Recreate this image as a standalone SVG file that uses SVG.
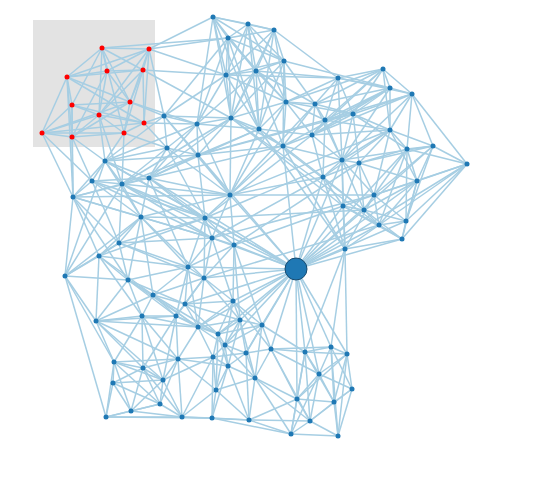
<svg xmlns="http://www.w3.org/2000/svg" width="557" height="484" viewBox="0 0 557 484">
<style>
.e path{stroke:#a6cee3;stroke-width:1.5;fill:none}
.n circle{fill:#1f78b4}
.r circle{fill:#ff0000}
</style>
<rect x="0" y="0" width="557" height="484" fill="#ffffff"/>
<rect id="highlight" x="33" y="20" width="122" height="127" fill="#e3e3e3"/>
<g id="connectors" class="e">
<path d="M102 48L149 49"/><path d="M102 48L107 71"/><path d="M102 48L143 70"/><path d="M102 48L67 77"/><path d="M102 48L130 102"/><path d="M102 48L72 105"/><path d="M102 48L99 115"/><path d="M102 48L124 133"/>
<path d="M149 49L107 71"/><path d="M149 49L143 70"/><path d="M149 49L67 77"/><path d="M149 49L130 102"/><path d="M149 49L99 115"/><path d="M149 49L144 123"/>
<path d="M107 71L143 70"/><path d="M107 71L67 77"/><path d="M107 71L130 102"/><path d="M107 71L99 115"/><path d="M107 71L72 137"/>
<path d="M143 70L67 77"/><path d="M143 70L144 123"/><path d="M143 70L130 102"/><path d="M143 70L124 133"/><path d="M143 70L99 115"/>
<path d="M67 77L72 105"/><path d="M67 77L42 133"/><path d="M67 77L72 137"/><path d="M67 77L130 102"/><path d="M67 77L144 123"/>
<path d="M72 105L99 115"/><path d="M72 105L144 123"/><path d="M72 105L42 133"/><path d="M72 105L72 137"/><path d="M72 105L130 102"/>
<path d="M99 115L42 133"/><path d="M99 115L72 137"/><path d="M99 115L124 133"/><path d="M99 115L144 123"/>
<path d="M130 102L124 133"/><path d="M130 102L42 133"/><path d="M144 123L42 133"/><path d="M144 123L124 133"/><path d="M42 133L72 137"/><path d="M42 133L124 133"/><path d="M72 137L124 133"/><path d="M72 137L130 102"/>
<path d="M149 49L213 17"/><path d="M102 48L228 38"/><path d="M149 49L228 38"/><path d="M143 70L226 75"/><path d="M143 70L231 118"/><path d="M130 102L197 124"/><path d="M124 133L167 148"/><path d="M144 123L167 148"/><path d="M124 133L122 184"/><path d="M72 137L92 181"/><path d="M99 115L122 184"/><path d="M130 102L164 116"/><path d="M149 49L164 116"/><path d="M144 123L164 116"/><path d="M144 123L197 124"/><path d="M67 77L73 197"/><path d="M42 133L73 197"/><path d="M72 137L73 197"/><path d="M72 105L73 197"/><path d="M42 133L92 181"/><path d="M72 137L105 161"/><path d="M124 133L105 161"/><path d="M99 115L105 161"/><path d="M149 49L226 75"/>
<path d="M213 17L248 24"/><path d="M213 17L274 30"/><path d="M213 17L228 38"/><path d="M213 17L226 75"/><path d="M213 17L256 71"/><path d="M213 17L231 118"/><path d="M213 17L259 129"/><path d="M213 17L284 61"/><path d="M213 17L197 124"/>
<path d="M248 24L274 30"/><path d="M248 24L228 38"/><path d="M248 24L226 75"/><path d="M248 24L256 71"/><path d="M248 24L231 118"/><path d="M248 24L286 102"/><path d="M248 24L284 61"/><path d="M248 24L259 129"/>
<path d="M274 30L228 38"/><path d="M274 30L284 61"/><path d="M274 30L256 71"/><path d="M274 30L338 78"/><path d="M274 30L226 75"/><path d="M274 30L259 129"/><path d="M274 30L286 102"/><path d="M274 30L231 118"/>
<path d="M228 38L226 75"/><path d="M228 38L256 71"/><path d="M228 38L231 118"/><path d="M228 38L259 129"/><path d="M228 38L284 61"/><path d="M228 38L197 124"/><path d="M228 38L286 102"/><path d="M228 38L164 116"/>
<path d="M284 61L256 71"/><path d="M284 61L226 75"/><path d="M284 61L286 102"/><path d="M284 61L315 104"/><path d="M284 61L259 129"/><path d="M284 61L283 146"/><path d="M284 61L390 88"/><path d="M284 61L231 118"/>
<path d="M226 75L256 71"/><path d="M226 75L231 118"/><path d="M226 75L197 124"/><path d="M226 75L286 102"/><path d="M226 75L259 129"/><path d="M226 75L338 78"/><path d="M226 75L164 116"/>
<path d="M256 71L286 102"/><path d="M256 71L231 118"/><path d="M256 71L259 129"/><path d="M256 71L283 146"/><path d="M256 71L315 104"/><path d="M256 71L338 78"/><path d="M256 71L197 124"/>
<path d="M338 78L383 69"/><path d="M338 78L390 88"/><path d="M338 78L286 102"/><path d="M338 78L315 104"/><path d="M338 78L325 120"/><path d="M338 78L353 114"/><path d="M338 78L412 94"/><path d="M338 78L342 160"/>
<path d="M383 69L390 88"/><path d="M383 69L412 94"/><path d="M383 69L286 102"/><path d="M383 69L325 120"/><path d="M383 69L353 114"/><path d="M383 69L315 104"/><path d="M383 69L312 135"/><path d="M383 69L390 130"/>
<path d="M390 88L412 94"/><path d="M390 88L325 120"/><path d="M390 88L353 114"/><path d="M390 88L390 130"/><path d="M390 88L315 104"/><path d="M390 88L312 135"/><path d="M390 88L283 146"/><path d="M390 88L342 160"/>
<path d="M412 94L390 130"/><path d="M412 94L433 146"/><path d="M412 94L407 149"/><path d="M412 94L325 120"/><path d="M412 94L353 114"/><path d="M412 94L342 160"/><path d="M412 94L312 135"/><path d="M412 94L467 164"/>
<path d="M286 102L315 104"/><path d="M286 102L325 120"/><path d="M286 102L231 118"/><path d="M286 102L259 129"/><path d="M286 102L312 135"/><path d="M286 102L283 146"/><path d="M286 102L353 114"/><path d="M286 102L230 195"/>
<path d="M315 104L325 120"/><path d="M315 104L312 135"/><path d="M315 104L283 146"/><path d="M315 104L353 114"/><path d="M315 104L342 160"/><path d="M315 104L230 195"/>
<path d="M325 120L353 114"/><path d="M325 120L312 135"/><path d="M325 120L390 130"/><path d="M325 120L342 160"/><path d="M325 120L323 177"/><path d="M325 120L198 155"/>
<path d="M353 114L390 130"/><path d="M353 114L312 135"/><path d="M353 114L342 160"/><path d="M353 114L359 163"/><path d="M353 114L407 149"/><path d="M353 114L198 155"/>
<path d="M231 118L197 124"/><path d="M231 118L259 129"/><path d="M231 118L164 116"/><path d="M231 118L198 155"/><path d="M231 118L283 146"/><path d="M231 118L230 195"/><path d="M231 118L379 225"/><path d="M231 118L343 206"/><path d="M231 118L149 178"/><path d="M231 118L122 184"/>
<path d="M197 124L164 116"/><path d="M197 124L198 155"/><path d="M197 124L259 129"/><path d="M197 124L167 148"/><path d="M197 124L105 161"/><path d="M197 124L230 195"/><path d="M197 124L149 178"/>
<path d="M259 129L283 146"/><path d="M259 129L312 135"/><path d="M259 129L230 195"/><path d="M259 129L198 155"/><path d="M259 129L364 210"/><path d="M259 129L345 249"/><path d="M259 129L149 178"/>
<path d="M312 135L283 146"/><path d="M312 135L342 160"/><path d="M312 135L323 177"/><path d="M312 135L390 130"/><path d="M312 135L205 218"/>
<path d="M283 146L323 177"/><path d="M283 146L230 195"/><path d="M283 146L198 155"/><path d="M283 146L342 160"/><path d="M283 146L345 249"/><path d="M283 146L149 178"/>
<path d="M390 130L433 146"/><path d="M390 130L407 149"/><path d="M390 130L342 160"/><path d="M390 130L359 163"/><path d="M390 130L417 181"/><path d="M390 130L374 195"/><path d="M390 130L230 195"/><path d="M390 130L323 177"/>
<path d="M433 146L407 149"/><path d="M433 146L467 164"/><path d="M433 146L417 181"/><path d="M433 146L359 163"/><path d="M433 146L406 221"/><path d="M433 146L342 160"/><path d="M433 146L374 195"/>
<path d="M407 149L467 164"/><path d="M407 149L417 181"/><path d="M407 149L359 163"/><path d="M407 149L374 195"/><path d="M407 149L406 221"/><path d="M407 149L379 225"/>
<path d="M342 160L359 163"/><path d="M342 160L323 177"/><path d="M342 160L343 206"/><path d="M342 160L374 195"/><path d="M342 160L364 210"/><path d="M342 160L205 218"/><path d="M342 160L345 249"/>
<path d="M359 163L374 195"/><path d="M359 163L323 177"/><path d="M359 163L364 210"/><path d="M359 163L343 206"/><path d="M359 163L417 181"/><path d="M359 163L234 245"/>
<path d="M467 164L417 181"/><path d="M467 164L406 221"/><path d="M467 164L402 239"/><path d="M467 164L379 225"/><path d="M467 164L374 195"/>
<path d="M417 181L374 195"/><path d="M417 181L406 221"/><path d="M417 181L402 239"/><path d="M417 181L379 225"/><path d="M417 181L364 210"/>
<path d="M374 195L343 206"/><path d="M374 195L364 210"/><path d="M374 195L379 225"/><path d="M374 195L406 221"/><path d="M374 195L212 238"/><path d="M374 195L345 249"/>
<path d="M323 177L343 206"/><path d="M323 177L364 210"/><path d="M323 177L230 195"/><path d="M323 177L345 249"/><path d="M323 177L212 238"/>
<path d="M343 206L364 210"/><path d="M343 206L379 225"/><path d="M343 206L345 249"/><path d="M343 206L234 245"/><path d="M343 206L402 239"/>
<path d="M364 210L379 225"/><path d="M364 210L406 221"/><path d="M364 210L402 239"/><path d="M364 210L205 218"/>
<path d="M379 225L406 221"/><path d="M379 225L402 239"/><path d="M379 225L345 249"/><path d="M379 225L204 278"/><path d="M406 221L402 239"/><path d="M402 239L345 249"/>
<path d="M230 195L374 195"/><path d="M73 197L230 195"/>
<path d="M164 116L167 148"/><path d="M164 116L198 155"/><path d="M164 116L105 161"/><path d="M164 116L230 195"/>
<path d="M167 148L198 155"/><path d="M167 148L105 161"/><path d="M167 148L149 178"/><path d="M167 148L122 184"/><path d="M167 148L205 218"/><path d="M167 148L230 195"/>
<path d="M198 155L105 161"/><path d="M198 155L149 178"/><path d="M198 155L122 184"/><path d="M198 155L230 195"/><path d="M198 155L205 218"/>
<path d="M105 161L149 178"/><path d="M105 161L92 181"/><path d="M105 161L122 184"/><path d="M105 161L73 197"/><path d="M105 161L205 218"/><path d="M105 161L141 217"/>
<path d="M149 178L92 181"/><path d="M149 178L122 184"/><path d="M149 178L73 197"/><path d="M149 178L230 195"/><path d="M149 178L141 217"/><path d="M149 178L205 218"/><path d="M149 178L188 267"/><path d="M149 178L234 245"/>
<path d="M92 181L122 184"/><path d="M92 181L73 197"/><path d="M92 181L141 217"/><path d="M92 181L119 243"/><path d="M92 181L205 218"/><path d="M92 181L212 238"/>
<path d="M122 184L73 197"/><path d="M122 184L141 217"/><path d="M122 184L119 243"/><path d="M122 184L205 218"/><path d="M122 184L230 195"/><path d="M122 184L212 238"/>
<path d="M73 197L141 217"/><path d="M73 197L119 243"/><path d="M73 197L99 256"/><path d="M73 197L212 238"/><path d="M73 197L128 280"/>
<path d="M230 195L141 217"/><path d="M230 195L205 218"/><path d="M230 195L212 238"/><path d="M230 195L234 245"/>
<path d="M141 217L205 218"/><path d="M141 217L119 243"/><path d="M141 217L99 256"/><path d="M141 217L212 238"/><path d="M141 217L128 280"/><path d="M141 217L188 267"/><path d="M141 217L204 278"/><path d="M141 217L153 295"/>
<path d="M205 218L212 238"/><path d="M205 218L234 245"/><path d="M205 218L188 267"/><path d="M205 218L204 278"/><path d="M205 218L119 243"/>
<path d="M119 243L99 256"/><path d="M119 243L128 280"/><path d="M119 243L65 276"/><path d="M119 243L212 238"/><path d="M119 243L188 267"/><path d="M119 243L204 278"/>
<path d="M212 238L234 245"/><path d="M212 238L188 267"/><path d="M212 238L204 278"/><path d="M212 238L233 301"/>
<path d="M234 245L188 267"/><path d="M234 245L204 278"/><path d="M234 245L233 301"/><path d="M234 245L240 320"/><path d="M234 245L262 325"/>
<path d="M99 256L65 276"/><path d="M99 256L128 280"/><path d="M99 256L96 321"/><path d="M99 256L153 295"/><path d="M99 256L188 267"/><path d="M99 256L205 218"/><path d="M99 256L142 316"/>
<path d="M65 276L96 321"/><path d="M65 276L114 362"/><path d="M65 276L106 417"/><path d="M65 276L105 161"/><path d="M65 276L73 197"/><path d="M65 276L141 217"/><path d="M65 276L128 280"/><path d="M65 276L122 184"/>
<path d="M188 267L204 278"/><path d="M188 267L128 280"/><path d="M188 267L153 295"/><path d="M188 267L185 304"/><path d="M188 267L176 316"/><path d="M188 267L198 327"/>
<path d="M204 278L153 295"/><path d="M204 278L233 301"/><path d="M204 278L185 304"/><path d="M204 278L176 316"/><path d="M204 278L198 327"/><path d="M204 278L240 320"/>
<path d="M128 280L153 295"/><path d="M128 280L96 321"/><path d="M128 280L142 316"/><path d="M128 280L176 316"/><path d="M128 280L185 304"/><path d="M128 280L198 327"/>
<path d="M153 295L185 304"/><path d="M153 295L142 316"/><path d="M153 295L176 316"/><path d="M153 295L96 321"/><path d="M153 295L198 327"/><path d="M153 295L218 334"/>
<path d="M233 301L185 304"/><path d="M233 301L240 320"/><path d="M233 301L262 325"/><path d="M233 301L198 327"/><path d="M233 301L218 334"/><path d="M233 301L225 345"/><path d="M233 301L271 349"/>
<path d="M185 304L176 316"/><path d="M185 304L198 327"/><path d="M185 304L218 334"/><path d="M185 304L240 320"/>
<path d="M96 321L142 316"/><path d="M96 321L114 362"/><path d="M96 321L143 368"/><path d="M96 321L176 316"/><path d="M96 321L198 327"/><path d="M96 321L178 359"/><path d="M96 321L163 380"/>
<path d="M142 316L176 316"/><path d="M142 316L114 362"/><path d="M142 316L143 368"/><path d="M142 316L178 359"/><path d="M142 316L163 380"/><path d="M142 316L198 327"/>
<path d="M176 316L198 327"/><path d="M176 316L178 359"/><path d="M176 316L218 334"/><path d="M176 316L143 368"/><path d="M176 316L163 380"/>
<path d="M198 327L218 334"/><path d="M198 327L225 345"/><path d="M198 327L213 357"/><path d="M198 327L240 320"/><path d="M198 327L178 359"/>
<path d="M240 320L262 325"/><path d="M240 320L218 334"/><path d="M240 320L225 345"/><path d="M240 320L246 353"/><path d="M240 320L228 366"/><path d="M240 320L255 378"/>
<path d="M262 325L246 353"/><path d="M262 325L271 349"/><path d="M262 325L225 345"/><path d="M262 325L218 334"/><path d="M262 325L305 352"/><path d="M262 325L255 378"/>
<path d="M218 334L225 345"/><path d="M218 334L213 357"/><path d="M218 334L228 366"/><path d="M218 334L216 390"/>
<path d="M225 345L213 357"/><path d="M225 345L228 366"/><path d="M225 345L246 353"/><path d="M225 345L255 378"/><path d="M225 345L216 390"/>
<path d="M246 353L271 349"/><path d="M246 353L228 366"/><path d="M246 353L255 378"/><path d="M246 353L213 357"/><path d="M246 353L249 420"/>
<path d="M271 349L305 352"/><path d="M271 349L255 378"/><path d="M271 349L319 374"/><path d="M271 349L297 399"/><path d="M271 349L310 421"/><path d="M271 349L331 347"/>
<path d="M213 357L178 359"/><path d="M213 357L228 366"/><path d="M213 357L163 380"/><path d="M213 357L216 390"/><path d="M213 357L212 418"/><path d="M213 357L182 417"/>
<path d="M114 362L143 368"/><path d="M114 362L113 383"/><path d="M114 362L163 380"/><path d="M114 362L106 417"/><path d="M114 362L131 411"/><path d="M114 362L178 359"/><path d="M114 362L160 404"/>
<path d="M143 368L178 359"/><path d="M143 368L113 383"/><path d="M143 368L163 380"/><path d="M143 368L160 404"/><path d="M143 368L131 411"/><path d="M143 368L182 417"/>
<path d="M178 359L163 380"/><path d="M178 359L216 390"/><path d="M178 359L160 404"/><path d="M178 359L182 417"/><path d="M178 359L228 366"/>
<path d="M228 366L255 378"/><path d="M228 366L216 390"/><path d="M228 366L212 418"/><path d="M228 366L249 420"/>
<path d="M255 378L216 390"/><path d="M255 378L249 420"/><path d="M255 378L297 399"/><path d="M255 378L310 421"/><path d="M255 378L291 434"/>
<path d="M113 383L131 411"/><path d="M113 383L106 417"/><path d="M113 383L163 380"/><path d="M113 383L160 404"/>
<path d="M163 380L160 404"/><path d="M163 380L182 417"/><path d="M163 380L131 411"/>
<path d="M216 390L212 418"/><path d="M216 390L182 417"/><path d="M216 390L249 420"/>
<path d="M160 404L131 411"/><path d="M160 404L182 417"/><path d="M160 404L106 417"/>
<path d="M131 411L106 417"/><path d="M131 411L182 417"/><path d="M106 417L182 417"/><path d="M106 417L212 418"/><path d="M182 417L212 418"/><path d="M182 417L249 420"/>
<path d="M212 418L249 420"/><path d="M212 418L291 434"/><path d="M249 420L310 421"/><path d="M249 420L291 434"/><path d="M249 420L297 399"/>
<path d="M305 352L331 347"/><path d="M305 352L347 354"/><path d="M305 352L319 374"/><path d="M305 352L297 399"/><path d="M305 352L334 402"/><path d="M305 352L310 421"/><path d="M305 352L291 434"/>
<path d="M331 347L347 354"/><path d="M331 347L319 374"/><path d="M331 347L352 389"/><path d="M331 347L334 402"/><path d="M331 347L338 436"/>
<path d="M347 354L319 374"/><path d="M347 354L352 389"/><path d="M347 354L334 402"/><path d="M347 354L338 436"/><path d="M347 354L297 399"/>
<path d="M319 374L352 389"/><path d="M319 374L297 399"/><path d="M319 374L334 402"/><path d="M319 374L310 421"/><path d="M319 374L291 434"/>
<path d="M352 389L334 402"/><path d="M352 389L338 436"/><path d="M352 389L310 421"/>
<path d="M297 399L334 402"/><path d="M297 399L310 421"/><path d="M297 399L291 434"/>
<path d="M334 402L310 421"/><path d="M334 402L338 436"/><path d="M310 421L291 434"/><path d="M310 421L338 436"/><path d="M291 434L338 436"/>
<path d="M345 249L347 354"/><path d="M345 249L305 352"/><path d="M345 249L331 347"/>
<path d="M296 269L105 161"/><path d="M296 269L149 178"/><path d="M296 269L198 155"/><path d="M296 269L230 195"/><path d="M296 269L205 218"/><path d="M296 269L212 238"/><path d="M296 269L234 245"/><path d="M296 269L188 267"/><path d="M296 269L204 278"/><path d="M296 269L233 301"/><path d="M296 269L185 304"/><path d="M296 269L198 327"/><path d="M296 269L240 320"/><path d="M296 269L262 325"/><path d="M296 269L218 334"/><path d="M296 269L271 349"/><path d="M296 269L305 352"/><path d="M296 269L331 347"/><path d="M296 269L347 354"/><path d="M296 269L319 374"/><path d="M296 269L297 399"/><path d="M296 269L246 353"/><path d="M296 269L225 345"/><path d="M296 269L323 177"/><path d="M296 269L283 146"/><path d="M296 269L343 206"/><path d="M296 269L364 210"/><path d="M296 269L379 225"/><path d="M296 269L406 221"/><path d="M296 269L402 239"/><path d="M296 269L345 249"/><path d="M296 269L467 164"/><path d="M296 269L433 146"/><path d="M296 269L407 149"/><path d="M296 269L417 181"/><path d="M296 269L342 160"/><path d="M296 269L122 184"/>
</g>
<g id="r1" class="r"><circle cx="102" cy="48" r="2.5"/></g>
<g id="r2" class="r"><circle cx="149" cy="49" r="2.5"/></g>
<g id="r3" class="r"><circle cx="107" cy="71" r="2.5"/></g>
<g id="r4" class="r"><circle cx="143" cy="70" r="2.5"/></g>
<g id="r5" class="r"><circle cx="67" cy="77" r="2.5"/></g>
<g id="r6" class="r"><circle cx="130" cy="102" r="2.5"/></g>
<g id="r7" class="r"><circle cx="72" cy="105" r="2.5"/></g>
<g id="r8" class="r"><circle cx="99" cy="115" r="2.5"/></g>
<g id="r9" class="r"><circle cx="144" cy="123" r="2.5"/></g>
<g id="r10" class="r"><circle cx="42" cy="133" r="2.5"/></g>
<g id="r11" class="r"><circle cx="72" cy="137" r="2.5"/></g>
<g id="r12" class="r"><circle cx="124" cy="133" r="2.5"/></g>
<g id="b1" class="n"><circle cx="213" cy="17" r="2.5"/></g>
<g id="b2" class="n"><circle cx="248" cy="24" r="2.5"/></g>
<g id="b3" class="n"><circle cx="274" cy="30" r="2.5"/></g>
<g id="b4" class="n"><circle cx="228" cy="38" r="2.5"/></g>
<g id="b5" class="n"><circle cx="284" cy="61" r="2.5"/></g>
<g id="b6" class="n"><circle cx="226" cy="75" r="2.5"/></g>
<g id="b7" class="n"><circle cx="256" cy="71" r="2.5"/></g>
<g id="b8" class="n"><circle cx="338" cy="78" r="2.5"/></g>
<g id="b9" class="n"><circle cx="383" cy="69" r="2.5"/></g>
<g id="b10" class="n"><circle cx="390" cy="88" r="2.5"/></g>
<g id="b11" class="n"><circle cx="412" cy="94" r="2.5"/></g>
<g id="b12" class="n"><circle cx="286" cy="102" r="2.5"/></g>
<g id="b13" class="n"><circle cx="315" cy="104" r="2.5"/></g>
<g id="b14" class="n"><circle cx="325" cy="120" r="2.5"/></g>
<g id="b15" class="n"><circle cx="353" cy="114" r="2.5"/></g>
<g id="b16" class="n"><circle cx="231" cy="118" r="2.5"/></g>
<g id="b17" class="n"><circle cx="197" cy="124" r="2.5"/></g>
<g id="b18" class="n"><circle cx="259" cy="129" r="2.5"/></g>
<g id="b19" class="n"><circle cx="312" cy="135" r="2.5"/></g>
<g id="b20" class="n"><circle cx="283" cy="146" r="2.5"/></g>
<g id="b21" class="n"><circle cx="390" cy="130" r="2.5"/></g>
<g id="b22" class="n"><circle cx="433" cy="146" r="2.5"/></g>
<g id="b23" class="n"><circle cx="407" cy="149" r="2.5"/></g>
<g id="b24" class="n"><circle cx="342" cy="160" r="2.5"/></g>
<g id="b25" class="n"><circle cx="359" cy="163" r="2.5"/></g>
<g id="b26" class="n"><circle cx="467" cy="164" r="2.5"/></g>
<g id="b27" class="n"><circle cx="417" cy="181" r="2.5"/></g>
<g id="b28" class="n"><circle cx="374" cy="195" r="2.5"/></g>
<g id="b29" class="n"><circle cx="323" cy="177" r="2.5"/></g>
<g id="b30" class="n"><circle cx="164" cy="116" r="2.5"/></g>
<g id="b31" class="n"><circle cx="167" cy="148" r="2.5"/></g>
<g id="b32" class="n"><circle cx="198" cy="155" r="2.5"/></g>
<g id="b33" class="n"><circle cx="105" cy="161" r="2.5"/></g>
<g id="b34" class="n"><circle cx="149" cy="178" r="2.5"/></g>
<g id="b35" class="n"><circle cx="92" cy="181" r="2.5"/></g>
<g id="b36" class="n"><circle cx="122" cy="184" r="2.5"/></g>
<g id="b37" class="n"><circle cx="73" cy="197" r="2.5"/></g>
<g id="b38" class="n"><circle cx="230" cy="195" r="2.5"/></g>
<g id="b39" class="n"><circle cx="141" cy="217" r="2.5"/></g>
<g id="b40" class="n"><circle cx="205" cy="218" r="2.5"/></g>
<g id="b41" class="n"><circle cx="343" cy="206" r="2.5"/></g>
<g id="b42" class="n"><circle cx="364" cy="210" r="2.5"/></g>
<g id="b43" class="n"><circle cx="379" cy="225" r="2.5"/></g>
<g id="b44" class="n"><circle cx="406" cy="221" r="2.5"/></g>
<g id="b45" class="n"><circle cx="402" cy="239" r="2.5"/></g>
<g id="b46" class="n"><circle cx="345" cy="249" r="2.5"/></g>
<g id="b47" class="n"><circle cx="119" cy="243" r="2.5"/></g>
<g id="b48" class="n"><circle cx="212" cy="238" r="2.5"/></g>
<g id="b49" class="n"><circle cx="234" cy="245" r="2.5"/></g>
<g id="b50" class="n"><circle cx="99" cy="256" r="2.5"/></g>
<g id="b51" class="n"><circle cx="65" cy="276" r="2.5"/></g>
<g id="b52" class="n"><circle cx="188" cy="267" r="2.5"/></g>
<g id="b53" class="n"><circle cx="204" cy="278" r="2.5"/></g>
<g id="b54" class="n"><circle cx="128" cy="280" r="2.5"/></g>
<g id="b55" class="n"><circle cx="153" cy="295" r="2.5"/></g>
<g id="b56" class="n"><circle cx="233" cy="301" r="2.5"/></g>
<g id="b57" class="n"><circle cx="185" cy="304" r="2.5"/></g>
<g id="b58" class="n"><circle cx="96" cy="321" r="2.5"/></g>
<g id="b59" class="n"><circle cx="142" cy="316" r="2.5"/></g>
<g id="b60" class="n"><circle cx="176" cy="316" r="2.5"/></g>
<g id="b61" class="n"><circle cx="198" cy="327" r="2.5"/></g>
<g id="b62" class="n"><circle cx="240" cy="320" r="2.5"/></g>
<g id="b63" class="n"><circle cx="262" cy="325" r="2.5"/></g>
<g id="b64" class="n"><circle cx="218" cy="334" r="2.5"/></g>
<g id="b65" class="n"><circle cx="225" cy="345" r="2.5"/></g>
<g id="b66" class="n"><circle cx="246" cy="353" r="2.5"/></g>
<g id="b67" class="n"><circle cx="271" cy="349" r="2.5"/></g>
<g id="b68" class="n"><circle cx="305" cy="352" r="2.5"/></g>
<g id="b69" class="n"><circle cx="331" cy="347" r="2.5"/></g>
<g id="b70" class="n"><circle cx="347" cy="354" r="2.5"/></g>
<g id="b71" class="n"><circle cx="213" cy="357" r="2.5"/></g>
<g id="b72" class="n"><circle cx="114" cy="362" r="2.5"/></g>
<g id="b73" class="n"><circle cx="143" cy="368" r="2.5"/></g>
<g id="b74" class="n"><circle cx="178" cy="359" r="2.5"/></g>
<g id="b75" class="n"><circle cx="228" cy="366" r="2.5"/></g>
<g id="b76" class="n"><circle cx="255" cy="378" r="2.5"/></g>
<g id="b77" class="n"><circle cx="319" cy="374" r="2.5"/></g>
<g id="b78" class="n"><circle cx="113" cy="383" r="2.5"/></g>
<g id="b79" class="n"><circle cx="163" cy="380" r="2.5"/></g>
<g id="b80" class="n"><circle cx="352" cy="389" r="2.5"/></g>
<g id="b81" class="n"><circle cx="216" cy="390" r="2.5"/></g>
<g id="b82" class="n"><circle cx="160" cy="404" r="2.5"/></g>
<g id="b83" class="n"><circle cx="297" cy="399" r="2.5"/></g>
<g id="b84" class="n"><circle cx="334" cy="402" r="2.5"/></g>
<g id="b85" class="n"><circle cx="131" cy="411" r="2.5"/></g>
<g id="b86" class="n"><circle cx="106" cy="417" r="2.5"/></g>
<g id="b87" class="n"><circle cx="182" cy="417" r="2.5"/></g>
<g id="b88" class="n"><circle cx="212" cy="418" r="2.5"/></g>
<g id="b89" class="n"><circle cx="249" cy="420" r="2.5"/></g>
<g id="b90" class="n"><circle cx="310" cy="421" r="2.5"/></g>
<g id="b91" class="n"><circle cx="291" cy="434" r="2.5"/></g>
<g id="b92" class="n"><circle cx="338" cy="436" r="2.5"/></g>
<g id="hub"><circle cx="296" cy="269" r="11" fill="#1f78b4" stroke="#174a6e" stroke-width="1"/></g>
</svg>
